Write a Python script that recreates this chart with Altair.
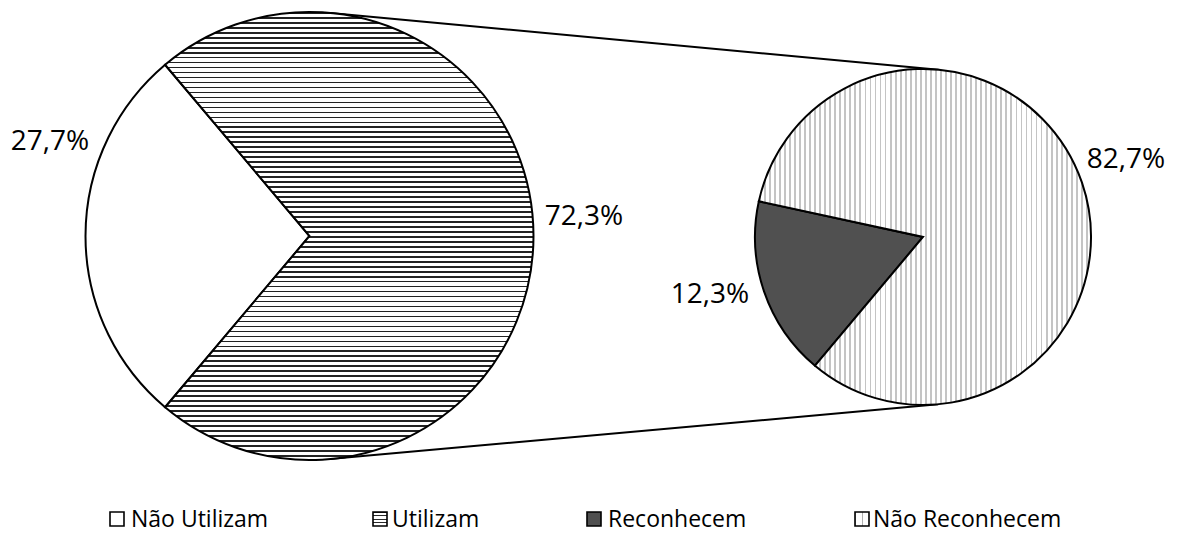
import math
import altair as alt
import pandas as pd

# ---------------- data ----------------
left_categories = ["Não Utilizam", "Utilizam"]
left_values = [27.7, 72.3]
left_labels = ["27,7%", "72,3%"]

right_categories = ["Reconhecem", "Não Reconhecem"]
right_values = [17.3, 82.7]          # slice sizes as drawn
right_labels = ["12,3%", "82,7%"]    # labels as printed

legend_items = ["Não Utilizam", "Utilizam", "Reconhecem", "Não Reconhecem"]

# ---------------- layout ----------------
W, H = 1181, 533
CX1, CY1, R1 = 309.5, 236.0, 224.0
CX2, CY2, R2 = 923.0, 237.0, 168.0
FONT = "Open Sans"

left_start = math.radians(270 - left_values[0] / sum(left_values) * 180)
right_start = math.radians(220)

label_pos_left = [(50, 142), (584, 217)]
label_pos_right = [(710, 295), (1126, 160)]

legend_sym_x = [117, 380, 594, 862]
legend_txt_x = [131, 392, 608, 873]
legend_y = 520


def stripes(n, frac, line, bg, vertical):
    stops = []
    for i in range(n):
        a = i / n
        b = (i + frac) / n
        c = (i + 1) / n
        stops += [
            {"offset": a, "color": line},
            {"offset": b, "color": line},
            {"offset": b, "color": bg},
            {"offset": c, "color": bg},
        ]
    g = {"gradient": "linear", "stops": stops, "x1": 0, "y1": 0}
    if vertical:
        g.update({"x2": 1, "y2": 0})
    else:
        g.update({"x2": 0, "y2": 1})
    return g


hatch_h = stripes(90, 0.34, "#222222", "#ffffff", vertical=False)
hatch_v = stripes(66, 0.36, "#c4c4c4", "#ffffff", vertical=True)
hatch_h_small = stripes(4, 0.2, "#2a2a2a", "#ffffff", vertical=False)
hatch_v_small = stripes(4, 0.25, "#b0b0b0", "#ffffff", vertical=True)
DARK = "#505050"

# ---------------- tangent connector lines ----------------
dx, dy = CX2 - CX1, CY2 - CY1
d = math.hypot(dx, dy)
ux, uy = dx / d, dy / d
px, py = -uy, ux
k = (R1 - R2) / d
s = math.sqrt(1 - k * k)
rows = []
for sign in (-1, 1):
    nx, ny = k * ux + sign * s * px, k * uy + sign * s * py
    rows.append({"x": CX1 + R1 * nx, "y": CY1 + R1 * ny,
                 "x2": CX2 + R2 * nx, "y2": CY2 + R2 * ny})
lines_df = pd.DataFrame(rows)

connectors = alt.Chart(lines_df).mark_rule(color="black", strokeWidth=2).encode(
    x=alt.X("x:Q", scale=None), y=alt.Y("y:Q", scale=None),
    x2="x2:Q", y2="y2:Q",
)

# ---------------- pies ----------------
left_df = pd.DataFrame({"cat": left_categories, "value": left_values,
                        "idx": range(len(left_values))})
right_df = pd.DataFrame({"cat": right_categories, "value": right_values,
                         "idx": range(len(right_values))})

left_pie = alt.Chart(left_df).mark_arc(radius=R1, stroke="black", strokeWidth=2).encode(
    x=alt.value(CX1), y=alt.value(CY1),
    theta=alt.Theta("value:Q", stack=True,
                    scale=alt.Scale(range=[left_start, left_start + 2 * math.pi])),
    order=alt.Order("idx:Q"),
    fill=alt.condition("datum.cat == 'Utilizam'", alt.value(hatch_h), alt.value("white")),
)

right_pie = alt.Chart(right_df).mark_arc(radius=R2, stroke="black", strokeWidth=2).encode(
    x=alt.value(CX2), y=alt.value(CY2),
    theta=alt.Theta("value:Q", stack=True,
                    scale=alt.Scale(range=[right_start, right_start + 2 * math.pi])),
    order=alt.Order("idx:Q"),
    fill=alt.condition("datum.cat == 'Reconhecem'", alt.value(DARK), alt.value(hatch_v)),
)

# ---------------- value labels ----------------
lab_df = pd.DataFrame({
    "label": left_labels + right_labels,
    "x": [p[0] for p in label_pos_left + label_pos_right],
    "y": [p[1] for p in label_pos_left + label_pos_right],
})
labels = alt.Chart(lab_df).mark_text(font=FONT, fontSize=28, align="center",
                                     baseline="middle", color="black").encode(
    x=alt.X("x:Q", scale=None), y=alt.Y("y:Q", scale=None), text="label:N"
)

# ---------------- legend ----------------
sym_fills = ["white", hatch_h_small, DARK, hatch_v_small]
legend_layers = []
for name, sx, fill in zip(legend_items, legend_sym_x, sym_fills):
    ldf = pd.DataFrame({"cat": [name], "x": [sx], "y": [legend_y - 1]})
    legend_layers.append(
        alt.Chart(ldf).mark_square(size=196, fill=fill, fillOpacity=1,
                                   stroke="black", strokeWidth=1.6, opacity=1).encode(
            x=alt.X("x:Q", scale=None), y=alt.Y("y:Q", scale=None)
        )
    )
leg_txt_df = pd.DataFrame({"cat": legend_items, "x": legend_txt_x,
                           "y": [legend_y] * len(legend_items)})
legend_text = alt.Chart(leg_txt_df).mark_text(font=FONT, fontSize=23, align="left",
                                              baseline="middle", color="black").encode(
    x=alt.X("x:Q", scale=None), y=alt.Y("y:Q", scale=None), text="cat:N"
)

chart = alt.layer(connectors, left_pie, right_pie, labels, legend_text, *legend_layers).resolve_scale(
    theta="independent"
).properties(
    width=W, height=H, padding=0, autosize="none", background="white"
).configure_view(stroke=None)

chart.save("out.html", embed_options={"renderer": "svg", "actions": False})
